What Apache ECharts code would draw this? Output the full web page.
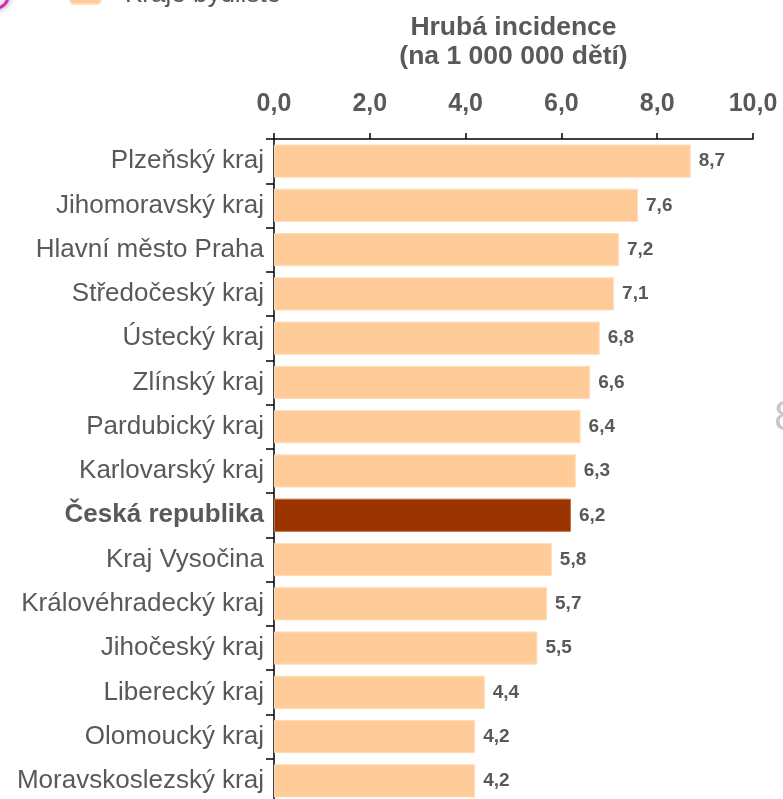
<!DOCTYPE html>
<html>
<head>
<meta charset="utf-8">
<script src="https://cdn.jsdelivr.net/npm/echarts@6/dist/echarts.min.js"></script>
<style>
  html, body { margin: 0; padding: 0; background: #fff; }
  #chart { width: 783px; height: 799px; }
</style>
</head>
<body>
<div id="chart"></div>
<script>
// Regions ordered by crude incidence, national total highlighted
const regions = [
  'Plzeňský kraj', 'Jihomoravský kraj', 'Hlavní město Praha', 'Středočeský kraj',
  'Ústecký kraj', 'Zlínský kraj', 'Pardubický kraj', 'Karlovarský kraj',
  'Česká republika', 'Kraj Vysočina', 'Královéhradecký kraj', 'Jihočeský kraj',
  'Liberecký kraj', 'Olomoucký kraj', 'Moravskoslezský kraj'
];
const incidence = [8.7, 7.6, 7.2, 7.1, 6.8, 6.6, 6.4, 6.3, 6.2, 5.8, 5.7, 5.5, 4.4, 4.2, 4.2];
const nationalLabel = 'Česká republika';
const seriesName = 'Kraje bydliště';
const axisTitle = 'Hrubá incidence\n(na 1 000 000 dětí)';

const FONT = '"Liberation Sans", Arial, sans-serif';
const GREY = '#595959';
const fmt = v => v.toFixed(1).replace('.', ',');

const chart = echarts.init(document.getElementById('chart'));

chart.setOption({
  animation: false,
  textStyle: { fontFamily: FONT },
  legend: {
    data: [seriesName],
    left: 69,
    top: -18,
    padding: 0,
    itemWidth: 31,
    itemHeight: 18,
    textStyle: { color: GREY, fontSize: 26, fontFamily: FONT, padding: [0, 0, 0, 19] }
  },
  grid: {
    left: 274, right: 30, top: 139, height: 664,
    containLabel: false,
    outerBoundsMode: 'none'
  },
  xAxis: {
    type: 'value',
    position: 'top',
    min: 0,
    max: 10,
    interval: 2,
    name: axisTitle,
    nameLocation: 'middle',
    nameGap: 68,
    nameTextStyle: { color: GREY, fontSize: 26.5, fontWeight: 'bold', fontFamily: FONT, lineHeight: 29 },
    axisLine: { show: true, lineStyle: { color: '#000', width: 1.5 } },
    axisTick: { show: true, inside: false, length: 6, lineStyle: { color: '#000', width: 1.5 } },
    axisLabel: {
      formatter: fmt,
      color: GREY,
      fontSize: 25,
      fontWeight: 'bold',
      fontFamily: FONT,
      margin: 22
    },
    splitLine: { show: false }
  },
  yAxis: {
    type: 'category',
    inverse: true,
    data: regions,
    axisLine: { show: true, lineStyle: { color: '#000', width: 1.5 } },
    axisTick: { show: true, inside: false, length: 8, lineStyle: { color: '#000', width: 1.5 } },
    axisLabel: {
      margin: 10,
      color: GREY,
      fontSize: 26,
      fontFamily: FONT,
      formatter: v => v === nationalLabel ? '{b|' + v + '}' : v,
      rich: {
        b: { fontWeight: 'bold', fontSize: 26, color: GREY, fontFamily: FONT }
      }
    }
  },
  series: [{
    name: seriesName,
    type: 'bar',
    barCategoryGap: '25%',
    itemStyle: { color: '#FFCC99', borderColor: '#FFDDBB', borderWidth: 1 },
    data: incidence.map((v, i) => regions[i] === nationalLabel
      ? { value: v, itemStyle: { color: '#993300', borderColor: '#C8703A', borderWidth: 1 } }
      : v),
    label: {
      show: true,
      position: 'right',
      distance: 8,
      formatter: p => fmt(p.value),
      color: GREY,
      fontSize: 19,
      fontWeight: 'bold',
      fontFamily: FONT
    }
  }],
  graphic: [
    {
      type: 'circle',
      shape: { cx: -4, cy: -4, r: 12 },
      style: { fill: '#fff', stroke: '#E020C0', lineWidth: 3, shadowBlur: 6, shadowColor: 'rgba(0,0,0,0.35)' }
    },
    {
      type: 'text',
      left: 774,
      top: 397,
      style: { text: '8', fill: '#C8C8C8', font: '42px ' + FONT }
    }
  ]
});
</script>
</body>
</html>
